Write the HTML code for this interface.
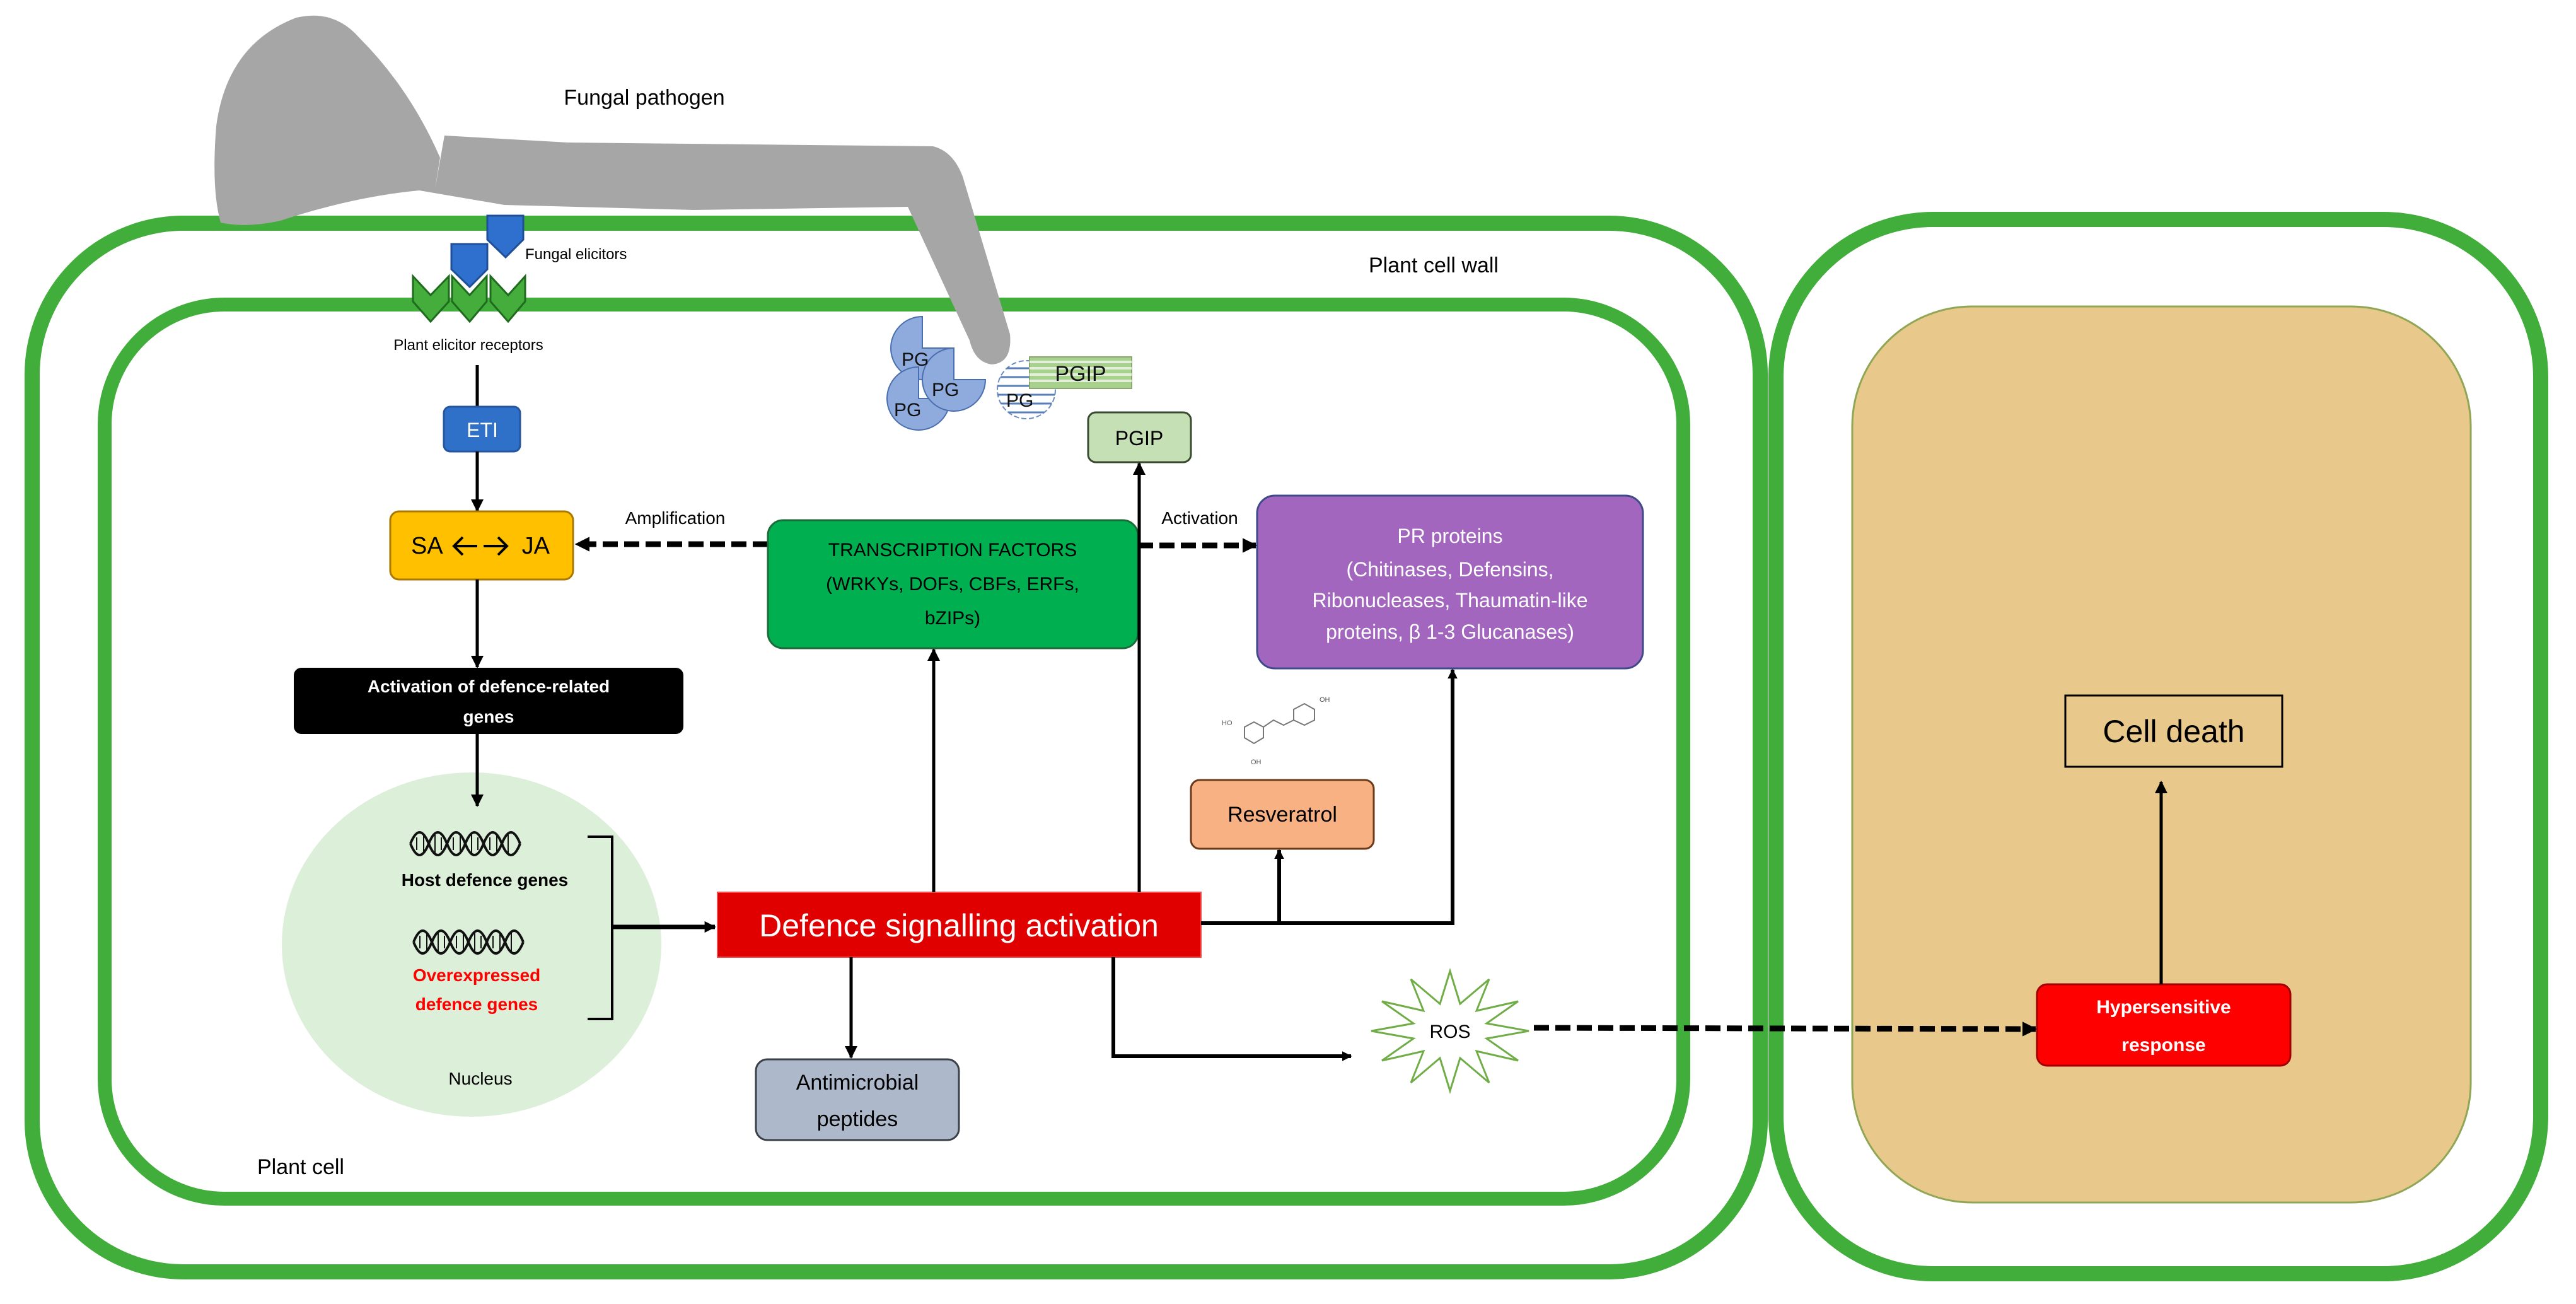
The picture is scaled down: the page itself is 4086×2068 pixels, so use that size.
<!DOCTYPE html>
<html><head><meta charset="utf-8"><style>html,body{margin:0;padding:0;background:#fff}svg{display:block}text{font-family:"Liberation Sans",sans-serif}</style></head><body>
<svg width="4086" height="2068" viewBox="0 0 4086 2068" xmlns="http://www.w3.org/2000/svg">
<defs>
<marker id="ah" viewBox="0 0 10 10" refX="9" refY="5" markerWidth="4" markerHeight="4" orient="auto" markerUnits="strokeWidth"><path d="M0 0L10 5L0 10z" fill="#000"/></marker>
<marker id="ah2" viewBox="0 0 10 10" refX="9" refY="5" markerWidth="2.6" markerHeight="2.6" orient="auto" markerUnits="strokeWidth"><path d="M0 0L10 5L0 10z" fill="#000"/></marker>
<clipPath id="cc"><circle cx="1628" cy="618" r="46"/></clipPath>
</defs>
<rect x="51" y="354" width="2741" height="1663" rx="240" fill="none" stroke="#41ad3b" stroke-width="24"/>
<rect x="166" y="483" width="2504" height="1418" rx="190" fill="none" stroke="#41ad3b" stroke-width="22"/>
<rect x="2817" y="348" width="1213" height="1672" rx="250" fill="none" stroke="#41ad3b" stroke-width="24"/>
<rect x="2938" y="486" width="981" height="1421" rx="190" fill="#e8c98b" stroke="#8fa654" stroke-width="3"/>
<path d="M690 300 L705 215 L900 226 L1480 232 Q1512 240 1527 280 L1602 530 Q1606 576 1573 578 Q1546 574 1538 540 L1440 328 L1100 333 L800 325 L665 302 Q560 312 445 350 Q390 362 350 353 Q335 300 343 200 Q360 70 470 28 Q530 14 570 60 Q650 140 698 250 Z" fill="#a6a6a6"/>
<text x="1022" y="166" font-size="34" text-anchor="middle">Fungal pathogen</text>
<path d="M773 342 H830 V380 L802 408 L773 380 Z" fill="#2f6fcd" stroke="#1f4f99" stroke-width="3"/>
<path d="M716 387 H773 V427 L745 455 L716 427 Z" fill="#2f6fcd" stroke="#1f4f99" stroke-width="3"/>
<g fill="#44ad3c" stroke="#1e6b1e" stroke-width="3">
<path d="M655 438 L683 468 L712 438 V478 L683 510 L655 478 Z"/>
<path d="M717 438 L745 468 L772 438 V478 L745 510 L717 478 Z"/>
<path d="M778 438 L806 468 L833 438 V478 L806 510 L778 478 Z"/>
</g>
<text x="833" y="411" font-size="24">Fungal elicitors</text>
<text x="743" y="555" font-size="24" text-anchor="middle">Plant elicitor receptors</text>
<text x="2274" y="432" font-size="34" text-anchor="middle">Plant cell wall</text>
<g fill="#8faadc" stroke="#4a6fb0" stroke-width="2">
<path d="M1463 552 L1513 552 A50 50 0 1 1 1463 502 Z"/>
<path d="M1457 632 L1507 632 A50 50 0 1 1 1457 582 Z"/>
<path d="M1513 602 L1563 602 A50 50 0 1 1 1513 552 Z"/>
</g>
<g font-size="30" fill="#111"><text x="1430" y="580">PG</text><text x="1478" y="628">PG</text><text x="1418" y="660">PG</text></g>
<circle cx="1628" cy="618" r="46" fill="#fff" stroke="#6a8cc0" stroke-width="2" stroke-dasharray="8 4"/>
<g clip-path="url(#cc)" stroke="#5a7fb8" stroke-width="3"><path d="M1570 584H1690M1570 598H1690M1570 612H1690M1570 626H1690M1570 640H1690M1570 654H1690"/></g>
<text x="1596" y="645" font-size="30" fill="#111">PG</text>
<rect x="1633" y="566" width="162" height="50" fill="#a9d18e" stroke="#8aa870" stroke-width="2"/>
<g stroke="#e2f0d9" stroke-width="4"><path d="M1633 574H1795M1633 584H1795M1633 594H1795M1633 604H1795"/></g>
<text x="1714" y="604" font-size="34" text-anchor="middle" fill="#111">PGIP</text>
<line x1="757" y1="579" x2="757" y2="645" stroke="#000" stroke-width="5"/>
<rect x="704" y="645" width="121" height="71" rx="10" fill="#2f70c9" stroke="#2456a0" stroke-width="3"/>
<text x="765" y="693" font-size="32" fill="#fff" text-anchor="middle">ETI</text>
<line x1="757" y1="716" x2="757" y2="810" stroke="#000" stroke-width="5" marker-end="url(#ah)"/>
<rect x="619" y="811" width="290" height="108" rx="14" fill="#ffc000" stroke="#a87800" stroke-width="3"/>
<text x="652" y="878" font-size="38">SA</text>
<text x="872" y="878" font-size="38" text-anchor="end">JA</text>
<path d="M757 866H722M734 852L720 866L734 880M767 866H802M790 852L804 866L790 880" fill="none" stroke="#000" stroke-width="4"/>
<text x="1071" y="831" font-size="28" text-anchor="middle">Amplification</text>
<line x1="1218" y1="863" x2="914" y2="863" stroke="#000" stroke-width="9" stroke-dasharray="24 10" marker-end="url(#ah2)"/>
<rect x="1218" y="825" width="587" height="203" rx="24" fill="#00b050" stroke="#1d6b3a" stroke-width="3"/>
<g font-size="30" text-anchor="middle" fill="#000"><text x="1511" y="882">TRANSCRIPTION FACTORS</text><text x="1511" y="936">(WRKYs, DOFs, CBFs, ERFs,</text><text x="1511" y="990">bZIPs)</text></g>
<text x="1903" y="831" font-size="28" text-anchor="middle">Activation</text>
<line x1="1805" y1="865" x2="1992" y2="865" stroke="#000" stroke-width="9" stroke-dasharray="24 10" marker-end="url(#ah2)"/>
<rect x="1726" y="654" width="163" height="79" rx="12" fill="#c5e0b4" stroke="#3a4a30" stroke-width="3"/>
<text x="1807" y="706" font-size="32" text-anchor="middle">PGIP</text>
<rect x="1994" y="786" width="612" height="274" rx="28" fill="#a366be" stroke="#3e4a8a" stroke-width="3"/>
<g font-size="32" fill="#fff" text-anchor="middle"><text x="2300" y="861">PR proteins</text><text x="2300" y="914">(Chitinases, Defensins,</text><text x="2300" y="963">Ribonucleases, Thaumatin-like</text><text x="2300" y="1013">proteins, β 1-3 Glucanases)</text></g>
<line x1="757" y1="919" x2="757" y2="1058" stroke="#000" stroke-width="5" marker-end="url(#ah)"/>
<rect x="466" y="1059" width="618" height="105" rx="12" fill="#000"/>
<g font-size="28" font-weight="bold" fill="#fff" text-anchor="middle"><text x="775" y="1098">Activation of defence-related</text><text x="775" y="1146">genes</text></g>
<ellipse cx="748" cy="1498" rx="301" ry="273" fill="#dcefd9"/>
<line x1="757" y1="1164" x2="757" y2="1278" stroke="#000" stroke-width="5" marker-end="url(#ah)"/>
<g fill="none" stroke="#111" stroke-width="4">
<path d="M651 1338 q14.5 -36 29 0 t29 0 t29 0 t29 0 t29 0 t29 0"/>
<path d="M651 1338 q14.5 36 29 0 t29 0 t29 0 t29 0 t29 0 t29 0"/>
<path d="M661 1328V1348M672 1322V1354M690 1322V1354M700 1328V1348M719 1328V1348M730 1322V1354M748 1322V1354M758 1328V1348M777 1328V1348M788 1322V1354M806 1322V1354" stroke-width="2"/>
<path d="M656 1494 q14.5 -36 29 0 t29 0 t29 0 t29 0 t29 0 t29 0"/>
<path d="M656 1494 q14.5 36 29 0 t29 0 t29 0 t29 0 t29 0 t29 0"/>
<path d="M666 1484V1504M677 1478V1510M695 1478V1510M705 1484V1504M724 1484V1504M735 1478V1510M753 1478V1510M763 1484V1504M782 1484V1504M793 1478V1510M811 1478V1510" stroke-width="2"/>
</g>
<text x="769" y="1405" font-size="28" font-weight="bold" text-anchor="middle">Host defence genes</text>
<g font-size="28" font-weight="bold" fill="#ff0000" text-anchor="middle"><text x="756" y="1556">Overexpressed</text><text x="756" y="1602">defence genes</text></g>
<text x="762" y="1720" font-size="28" text-anchor="middle">Nucleus</text>
<path d="M932 1327H971V1616H932" fill="none" stroke="#000" stroke-width="4"/>
<line x1="971" y1="1470" x2="1134" y2="1470" stroke="#000" stroke-width="7" marker-end="url(#ah2)"/>
<rect x="1138" y="1415" width="767" height="103" fill="#e00000" stroke="#f05050" stroke-width="2"/>
<text x="1521" y="1485" font-size="50" fill="#fff" text-anchor="middle">Defence signalling activation</text>
<line x1="1481" y1="1415" x2="1481" y2="1030" stroke="#000" stroke-width="5" marker-end="url(#ah)"/>
<line x1="1807" y1="1415" x2="1807" y2="735" stroke="#000" stroke-width="5" marker-end="url(#ah)"/>
<line x1="1350" y1="1518" x2="1350" y2="1677" stroke="#000" stroke-width="5" marker-end="url(#ah)"/>
<rect x="1199" y="1680" width="322" height="128" rx="18" fill="#adb9ca" stroke="#3a3f4a" stroke-width="3"/>
<g font-size="34" text-anchor="middle"><text x="1360" y="1728">Antimicrobial</text><text x="1360" y="1786">peptides</text></g>
<path d="M1766 1518V1675H2143" fill="none" stroke="#000" stroke-width="6" marker-end="url(#ah2)"/>
<path d="M1905 1464H2304V1062" fill="none" stroke="#000" stroke-width="6" marker-end="url(#ah2)"/>
<line x1="2029" y1="1464" x2="2029" y2="1348" stroke="#000" stroke-width="6" marker-end="url(#ah2)"/>
<rect x="1889" y="1237" width="290" height="109" rx="14" fill="#f8b183" stroke="#6b3a1a" stroke-width="3"/>
<text x="2034" y="1303" font-size="34" text-anchor="middle">Resveratrol</text>
<g fill="none" stroke="#777" stroke-width="2">
<path d="M1974 1153 L1989 1145 L2004 1153 L2004 1170 L1989 1179 L1974 1170 Z"/>
<path d="M2004 1153 L2020 1142 L2036 1150 L2052 1142"/>
<path d="M2052 1142 L2069 1150 L2085 1142 L2085 1125 L2069 1116 L2052 1125 Z"/>
</g>
<g font-size="11" fill="#555"><text x="1938" y="1150">HO</text><text x="1984" y="1212">OH</text><text x="2093" y="1113">OH</text></g>
<polygon points="2425,1635 2358,1647 2408,1682 2342,1667 2362,1717 2316,1678 2300,1730 2284,1678 2238,1717 2258,1667 2192,1682 2242,1647 2175,1635 2242,1623 2192,1588 2258,1603 2238,1553 2284,1592 2300,1540 2316,1592 2362,1553 2342,1603 2408,1588 2358,1623" fill="#fff" stroke="#70ad47" stroke-width="3"/>
<text x="2300" y="1646" font-size="30" text-anchor="middle">ROS</text>
<line x1="2433" y1="1630" x2="3229" y2="1632" stroke="#000" stroke-width="9" stroke-dasharray="24 10" marker-end="url(#ah2)"/>
<rect x="3231" y="1561" width="402" height="129" rx="16" fill="#ff0000" stroke="#a00000" stroke-width="3"/>
<g font-size="30" font-weight="bold" fill="#fff" text-anchor="middle"><text x="3432" y="1607">Hypersensitive</text><text x="3432" y="1667">response</text></g>
<line x1="3428" y1="1561" x2="3428" y2="1240" stroke="#000" stroke-width="5" marker-end="url(#ah)"/>
<rect x="3276" y="1103" width="344" height="113" fill="none" stroke="#000" stroke-width="3"/>
<text x="3448" y="1177" font-size="50" text-anchor="middle">Cell death</text>
<text x="408" y="1862" font-size="34">Plant cell</text>
</svg>
</body></html>
